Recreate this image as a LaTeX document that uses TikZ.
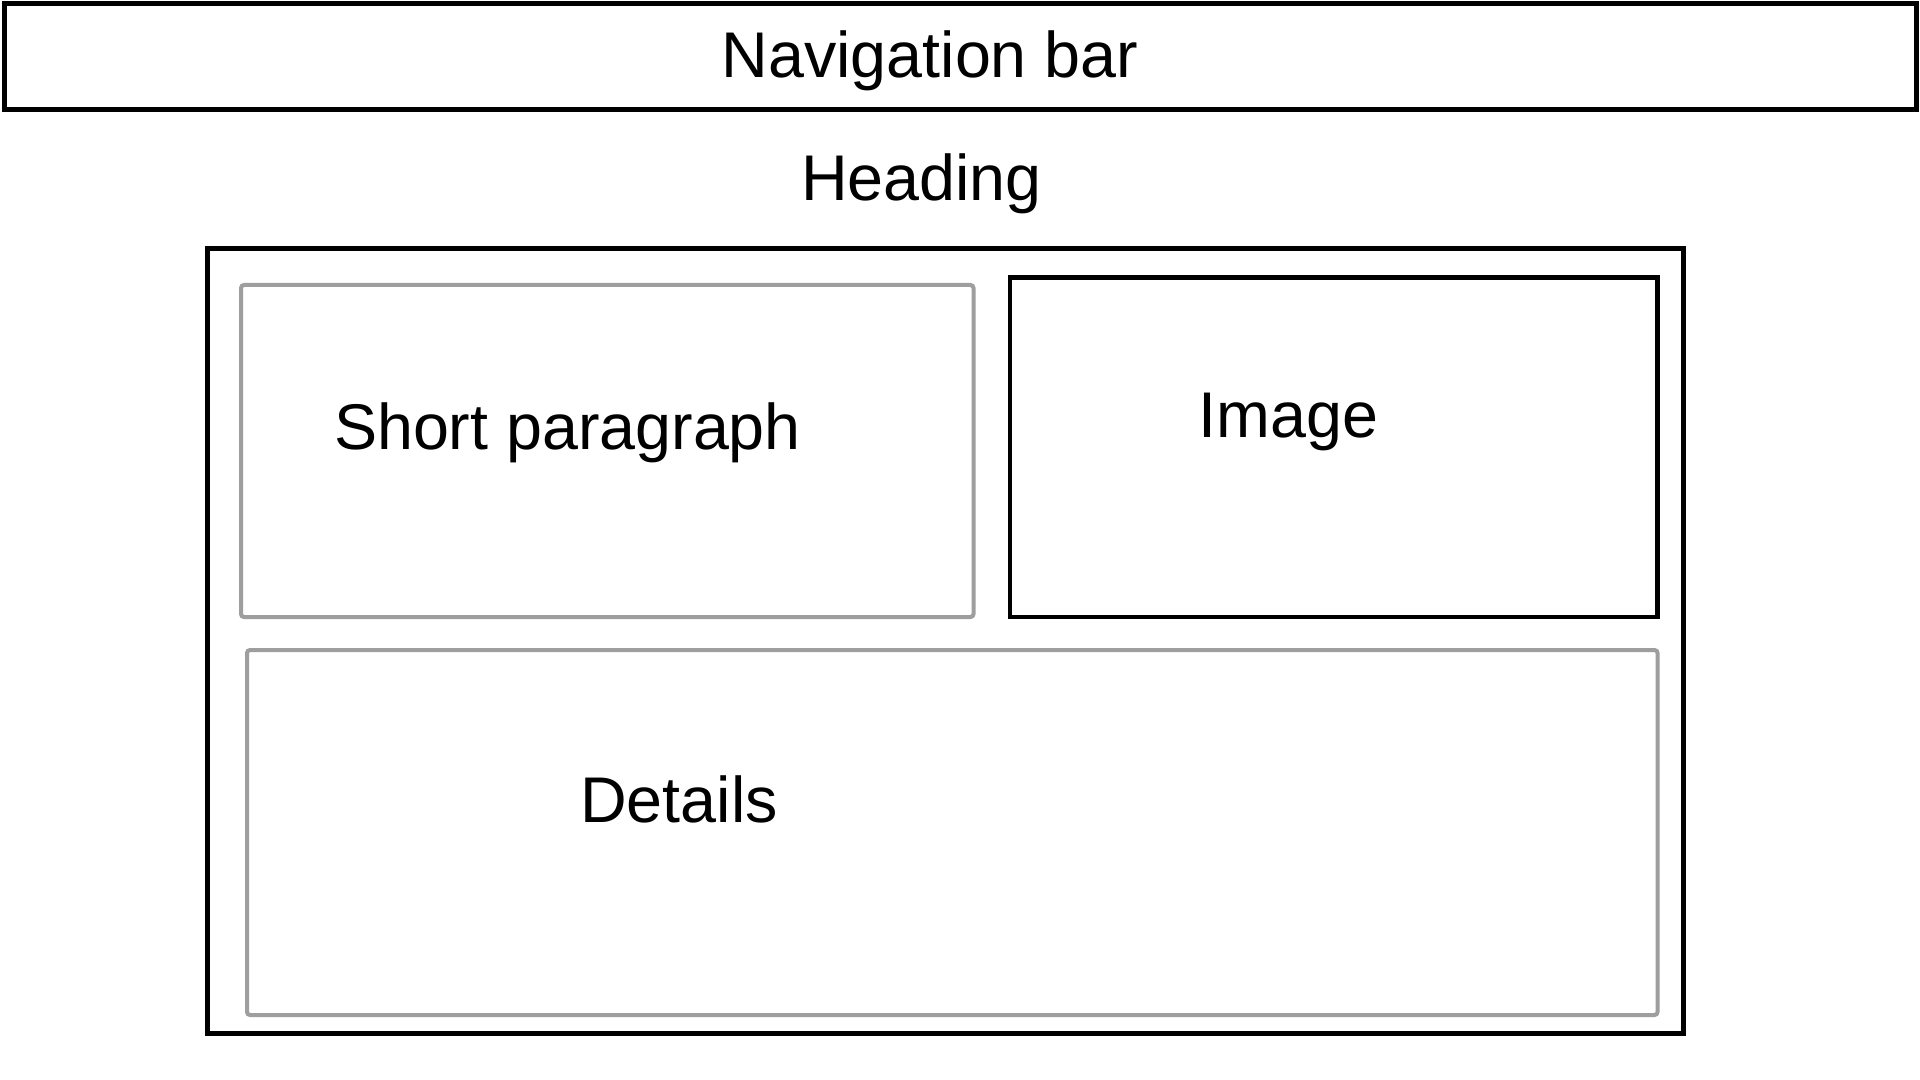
\documentclass[tikz,border=0pt]{standalone}
\usepackage{fontspec}
\setmainfont{Liberation Sans}
\begin{document}
\begin{tikzpicture}[x=0.5pt,y=-0.5pt,
  blackbox/.style={draw=black,line width=2.5pt},
  graybox/.style={draw=black!38,line width=2pt,rounded corners=1.5pt},
  label/.style={anchor=base,inner sep=0pt,font=\fontsize{32.3pt}{38pt}\selectfont}]
\useasboundingbox[fill=white] (0,0) rectangle (1920,1080);
% navigation bar
\draw[blackbox] (4,4) rectangle (1916,109.5);
\node[label] (nav) at (930,78) {Navigation bar};
% heading
\node[label] (heading) at (921.5,201) {Heading};
% main container
\draw[blackbox,line width=2.3pt] (207.5,248.5) rectangle (1683.5,1033.5);
% short paragraph
\draw[graybox] (241,285) rectangle (973.5,617);
\node[label] (para) at (567.5,449) {Short paragraph};
% image
\draw[blackbox,line width=2.3pt] (1010,277.5) rectangle (1657.5,617);
\node[label] (image) at (1288.5,437) {Image};
% details
\draw[graybox] (247,650) rectangle (1657.5,1015);
\node[label] (details) at (679,822) {Details};
\end{tikzpicture}
\end{document}
